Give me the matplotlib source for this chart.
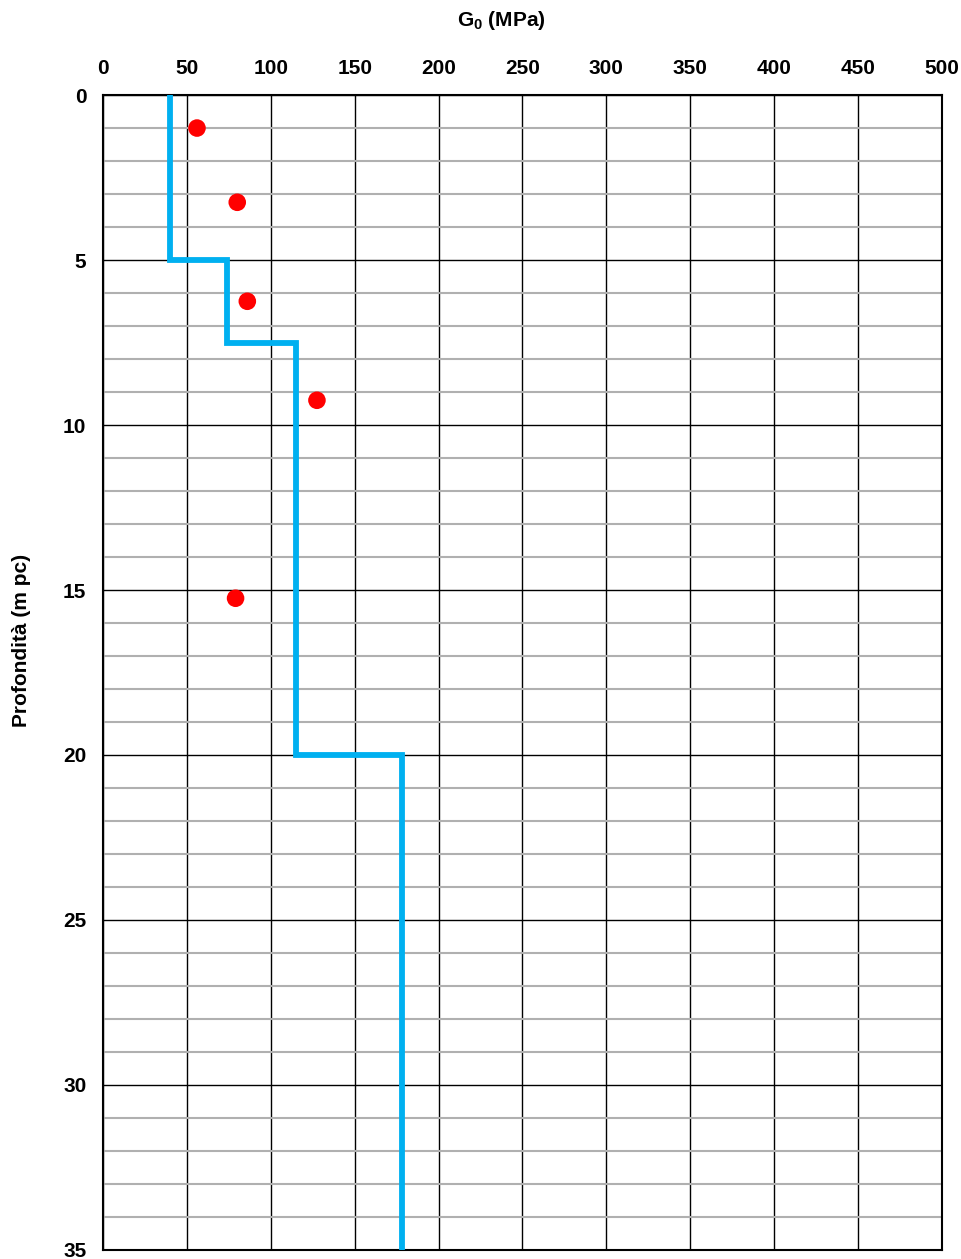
import numpy as np
import matplotlib.pyplot as plt
from matplotlib.ticker import MultipleLocator

plt.rcParams['font.family'] = ['Liberation Sans', 'DejaVu Sans']
plt.rcParams['mathtext.fontset'] = 'custom'
plt.rcParams['mathtext.bf'] = 'Liberation Sans:bold'
plt.rcParams['mathtext.rm'] = 'Liberation Sans:bold'

# profilo a gradini di G0
profilo_g0 = [40, 40, 74, 74, 115, 115, 178, 178]
profilo_z = [0, 5, 5, 7.5, 7.5, 20, 20, 35]

# misure puntuali
misure_g0 = [56, 80, 86, 127.5, 79]
misure_z = [1.0, 3.25, 6.25, 9.25, 15.25]

fig = plt.figure(figsize=(9.62, 12.59), dpi=100)
ax = fig.add_axes([0.1071, 0.0072, 0.872, 0.9173])

ax.plot(profilo_g0, profilo_z, color='#00B0F0', lw=4.2, zorder=3, solid_joinstyle='miter')
ax.scatter(misure_g0, misure_z, s=160, color='#FF0000', zorder=4, edgecolors='none')

ax.set_xlim(0, 500)
ax.set_ylim(35, 0)
ax.xaxis.set_major_locator(MultipleLocator(50))
ax.yaxis.set_major_locator(MultipleLocator(5))
ax.yaxis.set_minor_locator(MultipleLocator(1))
ax.xaxis.tick_top()

ax.grid(which='major', color='black', lw=1)
ax.grid(which='minor', axis='y', color='#B0B0B0', lw=1.5)
ax.set_axisbelow(True)
ax.tick_params(which='both', length=0, labelsize=15, pad=12)
for lab in ax.get_xticklabels() + ax.get_yticklabels():
    lab.set_fontweight('bold')
for s in ax.spines.values():
    s.set_linewidth(1.5)

fig.text(501 / 962, 1 - 20 / 1259, 'G$_\\mathrm{0}$ (MPa)', fontsize=15, fontweight='bold',
         ha='center', va='center')
fig.text(22 / 962, 1 - 640 / 1259, 'Profondità (m pc)', fontsize=15, fontweight='bold',
         ha='center', va='center', rotation=90)

fig.savefig('out.png', dpi=100)
